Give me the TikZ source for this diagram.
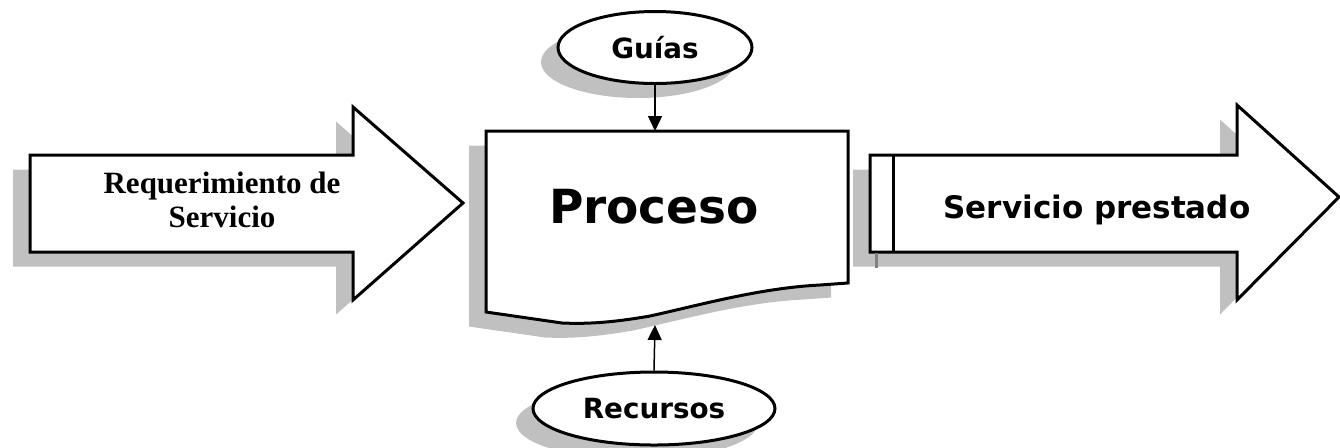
\documentclass[tikz,border=0pt]{standalone}
\usepackage{fontspec}
\setmainfont{Liberation Serif}
\newfontfamily\labelfont{DejaVu Sans}
\usetikzlibrary{arrows.meta,shapes.geometric,shadows}
\definecolor{shadowgray}{RGB}{192,192,192}
\definecolor{darkshadow}{RGB}{128,128,128}
\tikzset{
  outline/.style={draw=black,line width=1.5pt,fill=white,line join=miter},
  shadowed/.style={drop shadow={shadow xshift=-8.5pt,shadow yshift=-7.25pt,fill=shadowgray,opacity=1}},
  oval/.style={ellipse,outline,shadowed,inner sep=0pt,
    font=\labelfont\bfseries\fontsize{13.9pt}{16pt}\selectfont},
  feed/.style={line width=0.75pt,-{Triangle[length=7.5pt,width=7pt]}},
  seriflabel/.style={font=\bfseries\fontsize{15.5pt}{17pt}\selectfont,align=center,inner sep=0pt},
  sanslabel/.style={inner sep=0pt,anchor=base}
}
\begin{document}
\begin{tikzpicture}[x=0.5pt,y=-0.5pt]
\useasboundingbox (0,0) rectangle (1340,447);

% incoming request arrow
\draw[outline,shadowed] (30,155) -- (353,155) -- (353,107) -- (463,203)
  -- (353,300) -- (353,252) -- (30,252) -- cycle;
\node[seriflabel] (req) at (222,200) {Requerimiento de\\Servicio};

% process document shape with wavy bottom
\draw[outline,shadowed] (486,131) -- (848,131) -- (848,283) -- (820,285)
  .. controls (760,288) and (700,305) .. (650,316)
  .. controls (610,323) and (585,324) .. (562,323)
  -- (486,312) -- cycle;
\node[sanslabel,font=\labelfont\bfseries\fontsize{23.5pt}{28pt}\selectfont] (proc) at (654,223) {Proceso};
\coordinate (ptop) at (655,131);
\coordinate (pbot) at (655,325);

% outgoing service arrow
\draw[outline,shadowed] (870,155) -- (1237,155) -- (1237,105) -- (1339,197)
  -- (1237,300) -- (1237,252) -- (870,252) -- cycle;
\draw[line width=1.5pt] (893,155) -- (893,252);
\draw[darkshadow,line width=1.5pt] (876,253) -- (876,268);
\node[sanslabel,font=\labelfont\bfseries\fontsize{15.5pt}{18pt}\selectfont] (serv) at (1097,218) {Servicio prestado};

% guides and resources
\node[oval,minimum width=97pt,minimum height=36pt] (guias) at (655,47.5) {Guías};
\node[oval,minimum width=121pt,minimum height=36.5pt] (recursos) at (654,408.5) {Recursos};

\draw[feed] (guias.south) -- (ptop);
\draw[feed] (recursos.north) -- (pbot);
\end{tikzpicture}
\end{document}
